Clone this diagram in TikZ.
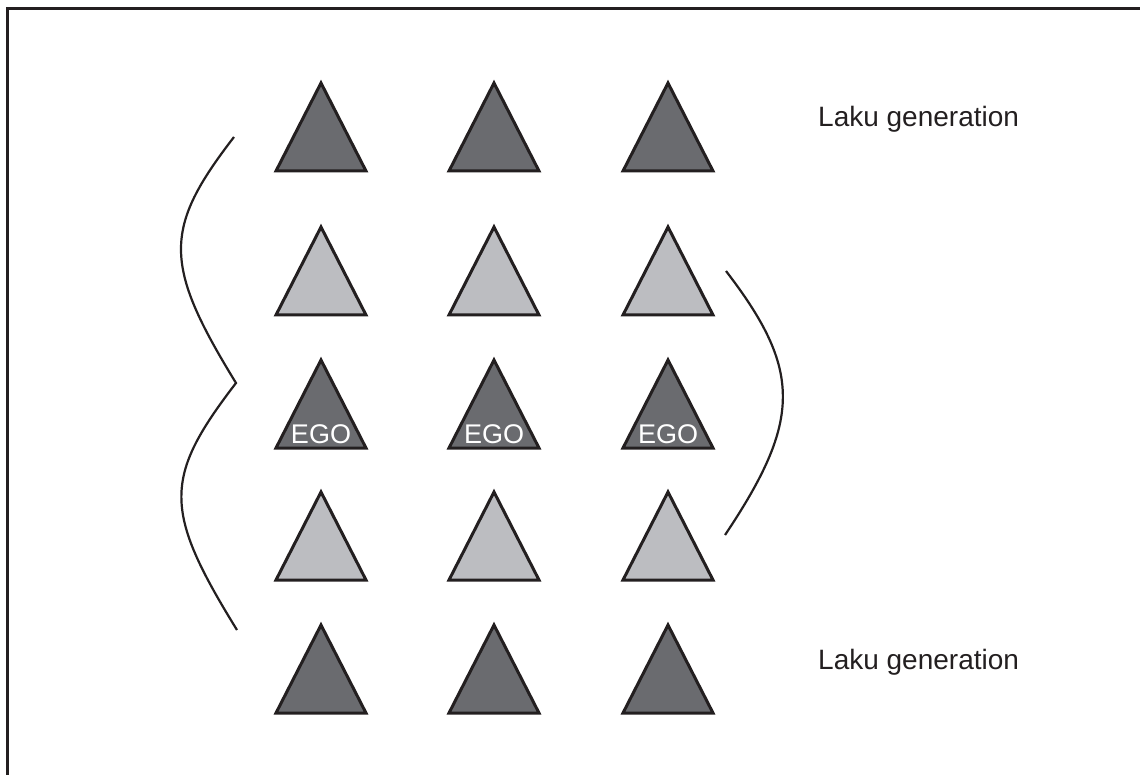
\documentclass[tikz,border=0pt]{standalone}
\usepackage{fontspec}
\setmainfont{Liberation Sans}
\definecolor{ink}{HTML}{231F20}
\definecolor{darkgen}{HTML}{6A6B6F}
\definecolor{lightgen}{HTML}{BCBDC1}
\tikzset{
  frameline/.style={draw=ink, line width=3pt},
  gentri/.style={draw=ink, line width=3pt, line join=miter},
  brace/.style={draw=ink, line width=2.2pt},
  genlabel/.style={anchor=base west, inner sep=0pt, font=\fontsize{28}{32}\selectfont, text=ink},
  egolabel/.style={anchor=base, inner sep=0pt, font=\fontsize{27}{31}\selectfont, text=white}
}
% one triangle: apex at (#1,#2), filled with #3
\newcommand{\gentriangle}[3]{%
  \path[gentri, fill=#3] (#1,#2) -- ++(45,88) -- ++(-90,0) -- cycle;}
\begin{document}
\begin{tikzpicture}[x=1pt,y=-1pt]
  \useasboundingbox (0,0) rectangle (1140,775);
  % open frame: left and top edges
  \draw[frameline] (7,790) -- (7,9) -- (1160,9);

  % five generations of three triangles each
  \foreach \cx in {321,494,668} {
    \gentriangle{\cx}{83}{darkgen}
    \gentriangle{\cx}{227}{lightgen}
    \gentriangle{\cx}{360}{darkgen}
    \gentriangle{\cx}{492}{lightgen}
    \gentriangle{\cx}{625}{darkgen}
    \node[egolabel] at (\cx,443) {EGO};
  }

  % labels of the outer generations
  \node[genlabel] (top) at (818,127) {Laku generation};
  \node[genlabel] (bottom) at (818,669) {Laku generation};

  % left brace spanning all five rows
  \coordinate (lb1) at (234,137);
  \coordinate (lb2) at (236,383);
  \coordinate (lb3) at (237,630);
  \draw[brace] (lb1) .. controls (163,229) and (163,264) .. (lb2)
                     .. controls (163,478) and (163,510) .. (lb3);

  % right bracket spanning the middle rows
  \coordinate (rb1) at (726,271);
  \coordinate (rb2) at (725,535);
  \draw[brace] (rb1) .. controls (802,370) and (802,420) .. (rb2);
\end{tikzpicture}
\end{document}
